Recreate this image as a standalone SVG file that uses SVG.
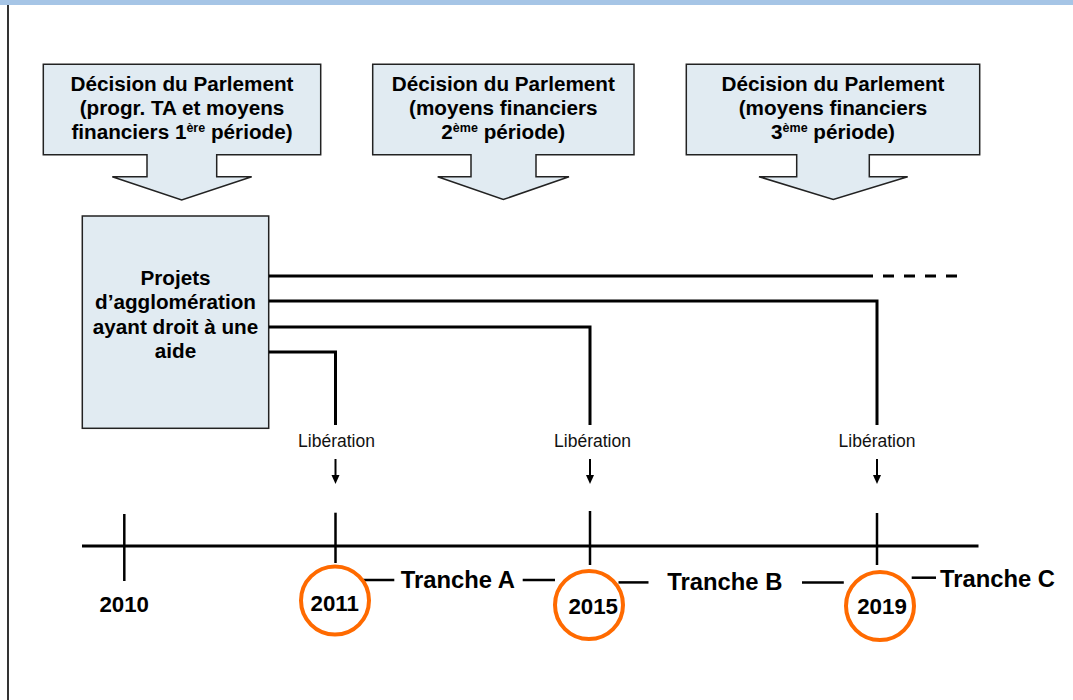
<svg xmlns="http://www.w3.org/2000/svg" width="1073" height="700" viewBox="0 0 1073 700">
  <defs>
    <style>
      .blk { fill: #e1ebf2; stroke: #222; stroke-width: 1.5; }
      .ttl { font-family: "Liberation Sans", Arial, sans-serif; font-weight: bold; font-size: 20.7px; fill: #000; text-anchor: middle; }
      .sup { font-size: 12.5px; }
      .lib { font-family: "Liberation Sans", Arial, sans-serif; font-size: 17.5px; fill: #111; text-anchor: middle; }
      .yr { font-family: "Liberation Sans", Arial, sans-serif; font-weight: bold; font-size: 22.3px; fill: #000; text-anchor: middle; }
      .tr { font-family: "Liberation Sans", Arial, sans-serif; font-weight: bold; font-size: 23.8px; fill: #000; }
      .con { fill: none; stroke: #000; stroke-width: 3; }
      .tick { fill: none; stroke: #000; stroke-width: 2.5; }
      .circ { fill: none; stroke: #ff6a00; stroke-width: 4; }
      .arr { stroke: #000; stroke-width: 2; fill: none; }
    </style>
  </defs>
  <rect x="0" y="0" width="1073" height="700" fill="#fff"/>
  <rect x="0" y="0" width="1073" height="5" fill="#a6c5e6"/>
  <line x1="8" y1="5" x2="8" y2="700" stroke="#000" stroke-width="1.6"/>

  <g id="decision1">
    <path class="blk" d="M43.3,64.3 H320.7 V154.7 H216.7 V176.7 H251.7 L181.7,200 L112.3,176.7 H147 V154.7 H43.3 Z"/>
    <text class="ttl" x="182" y="90.7">Décision du Parlement</text>
    <text class="ttl" x="182" y="115">(progr. TA et moyens</text>
    <text class="ttl" x="182" y="139.3">financiers 1<tspan class="sup" dy="-7">ère</tspan><tspan dy="7"> période)</tspan></text>
  </g>
  <g id="decision2">
    <path class="blk" d="M372.7,64.3 H634 V154.7 H536 V176.7 H569 L503.3,199.5 L437.7,176.7 H471 V154.7 H372.7 Z"/>
    <text class="ttl" x="503.3" y="90.7">Décision du Parlement</text>
    <text class="ttl" x="503.3" y="115">(moyens financiers</text>
    <text class="ttl" x="503.3" y="139.3">2<tspan class="sup" dy="-7">ème</tspan><tspan dy="7"> période)</tspan></text>
  </g>
  <g id="decision3">
    <path class="blk" d="M686.3,64.3 H979.7 V154.7 H869.3 V176.7 H907.7 L833.3,199.5 L759,176.7 H796.7 V154.7 H686.3 Z"/>
    <text class="ttl" x="833" y="90.7">Décision du Parlement</text>
    <text class="ttl" x="833" y="115">(moyens financiers</text>
    <text class="ttl" x="833" y="139.3">3<tspan class="sup" dy="-7">ème</tspan><tspan dy="7"> période)</tspan></text>
  </g>
  <g id="projets">
    <rect class="blk" x="82.3" y="216" width="186.4" height="212.3"/>
    <text class="ttl" x="175.5" y="284.5">Projets</text>
    <text class="ttl" x="175.5" y="309">d’agglomération</text>
    <text class="ttl" x="175.5" y="333.5">ayant droit à une</text>
    <text class="ttl" x="175.5" y="358">aide</text>
  </g>

  <g id="connectors">
    <path class="con" d="M269,276 H862"/>
    <path class="con" d="M862,276 H957" stroke-dasharray="11,10"/>
    <path class="con" d="M269,301 H877 V425"/>
    <path class="con" d="M269,327 H590 V425"/>
    <path class="con" d="M269,352 H335.5 V425"/>
    <line class="arr" x1="335.5" y1="459" x2="335.5" y2="477"/>
    <polygon points="331.5,475 339.5,475 335.5,484" fill="#000"/>
    <line class="arr" x1="590" y1="459" x2="590" y2="477"/>
    <polygon points="586,475 594,475 590,484" fill="#000"/>
    <line class="arr" x1="877" y1="459" x2="877" y2="477"/>
    <polygon points="873,475 881,475 877,484" fill="#000"/>
    <line class="con" x1="82" y1="546" x2="978.5" y2="546"/>
    <line class="tick" x1="124.3" y1="514" x2="124.3" y2="581"/>
    <line class="tick" x1="335.5" y1="512.7" x2="335.5" y2="563"/>
    <line class="tick" x1="590" y1="511" x2="590" y2="565"/>
    <line class="tick" x1="877" y1="513" x2="877" y2="565"/>
    <line class="tick" x1="361.7" y1="580" x2="394.3" y2="580"/>
    <line class="tick" x1="522.7" y1="580" x2="555" y2="580"/>
    <line class="tick" x1="618.5" y1="582.4" x2="648.5" y2="582.4"/>
    <line class="tick" x1="802" y1="582.4" x2="843.8" y2="582.4"/>
    <line class="tick" x1="911.7" y1="577.7" x2="936" y2="577.7"/>
  </g>

  <g id="liberation-labels">
    <text class="lib" x="336.5" y="446.7">Libération</text>
    <text class="lib" x="592.5" y="446.7">Libération</text>
    <text class="lib" x="877" y="446.7">Libération</text>
  </g>

  <g id="years">
    <text class="yr" x="124.2" y="611.7">2010</text>
    <circle class="circ" cx="335" cy="600.5" r="34"/>
    <text class="yr" x="334.7" y="610.7">2011</text>
    <circle class="circ" cx="589" cy="605" r="34"/>
    <text class="yr" x="593.2" y="614">2015</text>
    <circle class="circ" cx="880" cy="606" r="34"/>
    <text class="yr" x="882" y="614">2019</text>
  </g>

  <g id="tranches">
    <text class="tr" x="400.7" y="588.3">Tranche A</text>
    <text class="tr" x="667.3" y="590">Tranche B</text>
    <text class="tr" x="940" y="586.7">Tranche C</text>
  </g>
</svg>
